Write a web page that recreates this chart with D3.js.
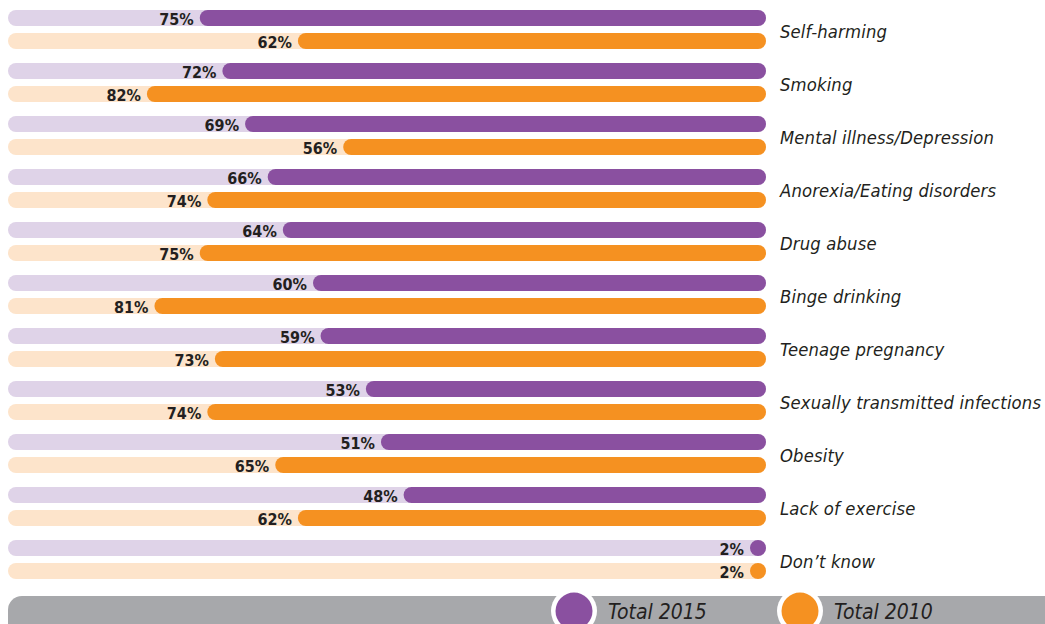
<!DOCTYPE html>
<html>
<head>
<meta charset="utf-8">
<script src="https://d3js.org/d3.v7.min.js"></script>
<style>
  body { margin: 0; background: #fff; }
  svg { display: block; font-family: "DejaVu Sans Condensed", "DejaVu Sans", sans-serif; font-stretch: condensed; }
</style>
</head>
<body>
<div id="chart"></div>
<script>
// data
var categories = ["Self-harming", "Smoking", "Mental illness/Depression", "Anorexia/Eating disorders",
  "Drug abuse", "Binge drinking", "Teenage pregnancy", "Sexually transmitted infections",
  "Obesity", "Lack of exercise", "Don\u2019t know"];
var total2015 = [75, 72, 69, 66, 64, 60, 59, 53, 51, 48, 2];
var total2010 = [62, 82, 56, 74, 75, 81, 73, 74, 65, 62, 2];
var seriesNames = ["Total 2015", "Total 2010"];

var colors = { "Total 2015": "#8a50a0", "Total 2010": "#f59121" };
var tracks = { "Total 2015": "#dfd3e8", "Total 2010": "#fde4cb" };

var width = 1045, height = 624;
var barRight = 766, trackLeft = 8;

var svg = d3.select("#chart").append("svg")
  .attr("width", width)
  .attr("height", height);

// scales
var x = d3.scaleLinear().domain([0, 100]).range([barRight, 11]);
var y = d3.scaleBand().domain(categories).range([10, 579]).paddingInner(14 / 53).paddingOuter(0);
var ySub = d3.scaleBand().domain(seriesNames).range([0, y.bandwidth()]).paddingInner(7 / 23);
var bh = ySub.bandwidth();

var rows = categories.map(function(c, i) {
  return { cat: c, values: [
    { series: "Total 2015", v: total2015[i] },
    { series: "Total 2010", v: total2010[i] }
  ] };
});

var group = svg.selectAll("g.row")
  .data(rows)
  .enter().append("g")
  .attr("class", "row")
  .attr("transform", function(d) { return "translate(0," + y(d.cat) + ")"; });

var bars = group.selectAll("g.bar")
  .data(function(d) { return d.values; })
  .enter().append("g")
  .attr("class", "bar")
  .attr("transform", function(d) { return "translate(0," + ySub(d.series) + ")"; });

// background tracks
bars.append("rect")
  .attr("x", trackLeft)
  .attr("width", barRight - trackLeft)
  .attr("height", bh)
  .attr("rx", bh / 2)
  .attr("fill", function(d) { return tracks[d.series]; });

function barLeft(d) {
  return Math.min(x(d.v), barRight - bh);
}

// value bars
bars.append("rect")
  .attr("x", barLeft)
  .attr("width", function(d) { return barRight - barLeft(d); })
  .attr("height", bh)
  .attr("rx", bh / 2)
  .attr("fill", function(d) { return colors[d.series]; });

// value labels
bars.append("text")
  .attr("x", function(d) { return barLeft(d) - 6; })
  .attr("y", bh - 1.5)
  .attr("text-anchor", "end")
  .attr("font-size", 16)
  .attr("font-weight", "bold")
  .attr("fill", "#231f20")
  .text(function(d) { return d.v + "%"; });

// category labels
group.append("text")
  .attr("x", 780)
  .attr("y", 28)
  .attr("font-size", 18.3)
  .attr("font-style", "italic")
  .attr("letter-spacing", 0.15)
  .attr("fill", "#231f20")
  .text(function(d) { return d.cat; });

// legend strip
var legend = svg.append("g");
legend.append("rect")
  .attr("x", trackLeft)
  .attr("y", 596)
  .attr("width", width + 40)
  .attr("height", 50)
  .attr("rx", 14)
  .attr("fill", "#a7a8ab");

var legendX = { "Total 2015": 574, "Total 2010": 800 };
var item = legend.selectAll("g.item")
  .data(seriesNames)
  .enter().append("g")
  .attr("transform", function(d) { return "translate(" + legendX[d] + ",611)"; });

item.append("circle").attr("r", 23).attr("fill", "#fff");
item.append("circle").attr("r", 18.5).attr("fill", function(d) { return colors[d]; });
item.append("text")
  .attr("x", 34)
  .attr("y", 8)
  .attr("font-size", 21)
  .attr("font-style", "italic")
  .attr("fill", "#231f20")
  .text(function(d) { return d; });
</script>
</body>
</html>
